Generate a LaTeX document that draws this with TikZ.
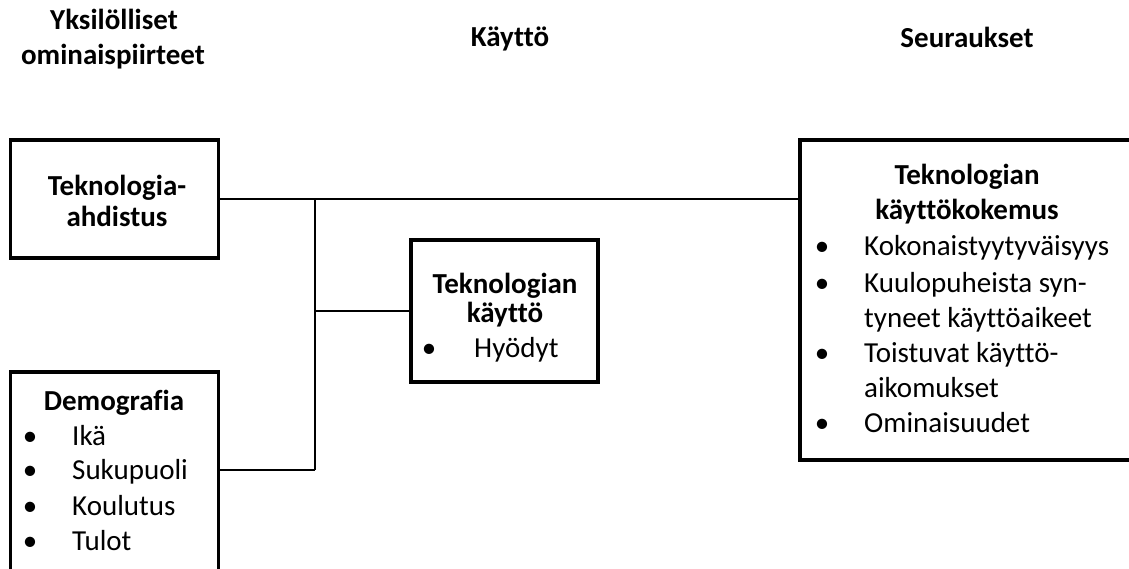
\documentclass[tikz,border=0pt]{standalone}
\usepackage{fontspec}
\setmainfont{Carlito}[Ligatures=NoCommon]
\begin{document}
\begin{tikzpicture}[x=1pt,y=-1pt,
  box/.style={draw=black,line width=3.5pt,inner sep=0pt,fill=none},
  conn/.style={draw=black,line width=2.2pt},
  txt/.style={inner sep=0pt,font=\fontsize{29}{35}\selectfont},
  btxt/.style={inner sep=0pt,font=\fontsize{29}{35}\selectfont\bfseries},
  bul/.style={inner sep=0pt,font=\fontsize{29}{35}\selectfont}]
\useasboundingbox (0,0) rectangle (1129,569);
\clip (0,0) rectangle (1129,569);
% headers
\node[btxt,anchor=base] (hA1) at (114,30) {Yksilölliset};
\node[btxt,anchor=base] (hA2) at (113,65) {ominaispiirteet};
\node[btxt,anchor=base] (hB) at (510,47) {Käyttö};
\node[btxt,anchor=base] (hC) at (967,48) {Seuraukset};
% boxes
\node[box,minimum width=208pt,minimum height=118pt] (b1) at (114.6,199) {};
\node[box,minimum width=208pt,minimum height=248pt] (b2) at (114.6,496) {};
\node[box,minimum width=187pt,minimum height=142pt] (b4) at (504.5,311) {};
\node[box,minimum width=360pt,minimum height=320pt] (b3) at (980,300) {};
% box 1 text
\node[btxt,anchor=base] (t1a) at (117,196) {Teknologia-};
\node[btxt,anchor=base] (t1b) at (117,227) {ahdistus};
% box 2 text
\node[btxt,anchor=base] (t2h) at (114,410) {Demografia};
\foreach \y/\t [count=\i] in {445/Ikä,479/Sukupuoli,515/Koulutus,550/Tulot}{
  \node[bul,anchor=base] (t2b\i) at (30,\y) {•};
  \node[txt,anchor=base west] (t2t\i) at (72,\y) {\t};
}
% mid box text
\node[btxt,anchor=base] (t4a) at (505,293) {Teknologian};
\node[btxt,anchor=base] (t4b) at (505,322) {käyttö};
\node[bul,anchor=base] (t4c) at (429,357) {•};
\node[txt,anchor=base west] (t4d) at (474,357) {Hyödyt};
% right box text
\node[btxt,anchor=base] (t3a) at (967,185) {Teknologian};
\node[btxt,anchor=base] (t3b) at (967,220) {käyttökokemus};
\node[bul,anchor=base] (t3c1) at (822,256) {•};
\node[txt,anchor=base west] (t3d1) at (864,256) {Kokonaistyytyväisyys};
\node[bul,anchor=base] (t3c2) at (822,292) {•};
\node[txt,anchor=base west] (t3d2) at (864,292) {Kuulopuheista syn-};
\node[txt,anchor=base west] (t3d3) at (864,327) {tyneet käyttöaikeet};
\node[bul,anchor=base] (t3c4) at (822,362) {•};
\node[txt,anchor=base west] (t3d4) at (864,362) {Toistuvat käyttö-};
\node[txt,anchor=base west] (t3d5) at (864,397) {aikomukset};
\node[bul,anchor=base] (t3c6) at (822,432) {•};
\node[txt,anchor=base west] (t3d6) at (864,432) {Ominaisuudet};
% connectors
\coordinate (j1) at (315,199);
\coordinate (j2) at (315,470);
\draw[conn] (b1.east) -- (b1.east -| b3.west);
\draw[conn] (j1) -- (j2);
\draw[conn] (j2) -- (j2 -| b2.east);
\draw[conn] (b4.west -| j1) -- (b4.west);
\end{tikzpicture}
\end{document}
